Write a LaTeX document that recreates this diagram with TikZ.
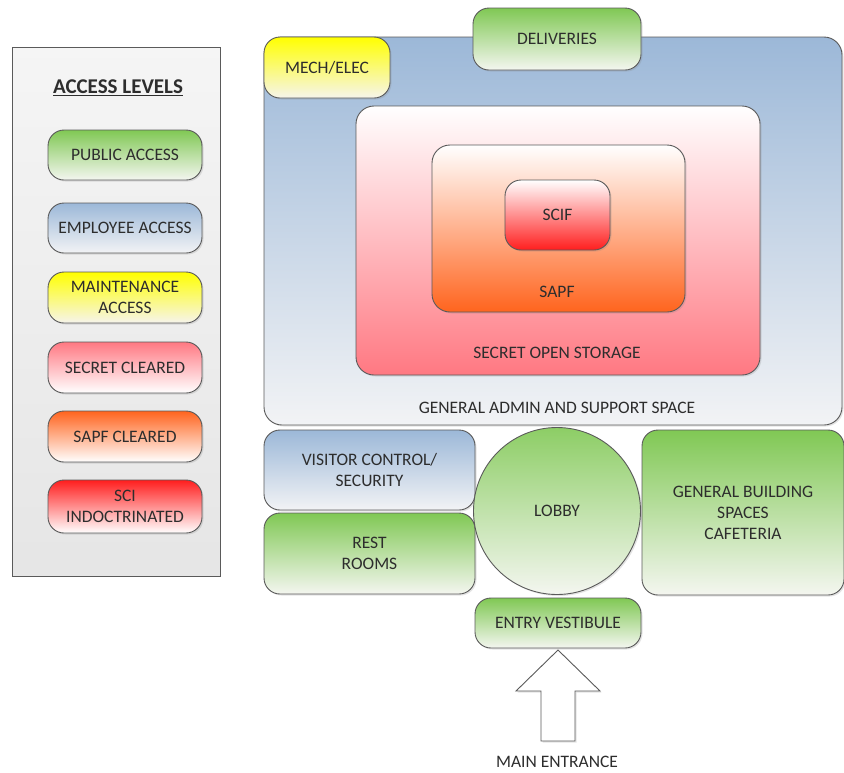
\documentclass[tikz,border=0pt]{standalone}
\usepackage{fontspec}
\setmainfont{Carlito}
\usetikzlibrary{shadows}
\definecolor{gtop}{RGB}{128,200,84}
\definecolor{gbot}{RGB}{244,246,240}
\definecolor{btop}{RGB}{156,184,216}
\definecolor{bbot}{RGB}{242,243,245}
\definecolor{ytop}{RGB}{255,255,0}
\definecolor{ybot}{RGB}{246,244,236}
\definecolor{ptop}{RGB}{255,120,130}
\definecolor{otop}{RGB}{255,100,30}
\definecolor{rtop}{RGB}{255,30,30}
\definecolor{edge}{RGB}{90,90,90}
\definecolor{txt}{RGB}{45,45,45}
\tikzset{
  room/.style={draw=edge, line width=0.9pt, rounded corners=16pt, align=center,
    text=txt, font=\fontsize{17.5}{21}\selectfont, inner sep=0pt,
    drop shadow={opacity=0.22, shadow xshift=1.5pt, shadow yshift=-1.5pt}},
  green/.style={room, top color=gtop, middle color=gtop!45!gbot, bottom color=gbot},
  blue/.style={room, top color=btop, middle color=btop!40!bbot, bottom color=bbot},
  yellow/.style={room, top color=ytop, middle color=ytop!40!ybot, bottom color=ybot},
  pinkdown/.style={room, top color=ptop, middle color=ptop!40!white, bottom color=white},
  orangedown/.style={room, top color=otop, middle color=otop!40!white, bottom color=white},
  reddown/.style={room, top color=rtop, middle color=rtop!40!white, bottom color=white},
  lbl/.style={text=txt, font=\fontsize{17.5}{21}\selectfont, align=center, inner sep=0pt},
}
\begin{document}
\begin{tikzpicture}[x=1pt,y=-1pt]
\useasboundingbox (0,0) rectangle (844,772);
% legend
\node[draw=edge, line width=0.9pt, top color=white!96!black, bottom color=white!90!black,
  minimum width=208, minimum height=529, inner sep=0pt] (legend) at (116,311.5) {};
\node[lbl, font=\fontsize{21}{25}\selectfont\bfseries] (title) at (118,88) {\underline{ACCESS LEVELS}};
\node[green, minimum width=154, minimum height=50] (pub) at (125,155) {PUBLIC ACCESS};
\node[blue, minimum width=154, minimum height=50] (emp) at (125,228) {EMPLOYEE ACCESS};
\node[yellow, minimum width=154, minimum height=51] (mnt) at (125,297.5) {MAINTENANCE\\ACCESS};
\node[pinkdown, minimum width=154, minimum height=51] (sec) at (125,367.5) {SECRET CLEARED};
\node[orangedown, minimum width=154, minimum height=51] (sapfc) at (125,436.5) {SAPF CLEARED};
\node[reddown, minimum width=154, minimum height=53] (sci) at (125,506.5) {SCI\\INDOCTRINATED};
% plan
\node[room, top color=btop, bottom color=bbot, rounded corners=18pt,
  minimum width=578, minimum height=388] (admin) at (553,231) {};
\node[lbl] (adminlbl) at (557,408) {GENERAL ADMIN AND SUPPORT SPACE};
\node[yellow, minimum width=126, minimum height=61] (mech) at (327,67.5) {MECH/ELEC};
\node[green, minimum width=168, minimum height=62] (deliv) at (557,39) {DELIVERIES};
\node[room, top color=white, middle color=ptop!35!white, bottom color=ptop, rounded corners=18pt,
  minimum width=404, minimum height=269] (sos) at (558,240.5) {};
\node[lbl] (soslbl) at (557,353) {SECRET OPEN STORAGE};
\node[room, top color=white, middle color=otop!30!white, bottom color=otop, rounded corners=18pt,
  minimum width=253, minimum height=167] (sapf) at (558.5,228.5) {};
\node[lbl] (sapflbl) at (557,292) {SAPF};
\node[room, top color=white, middle color=rtop!35!white, bottom color=rtop, rounded corners=16pt,
  minimum width=105, minimum height=70] (scif) at (557.5,215) {SCIF};
\node[blue, minimum width=211, minimum height=80] (visit) at (369.5,470) {VISITOR CONTROL/\\SECURITY};
\node[green, minimum width=211, minimum height=81] (rest) at (369.5,553.5) {REST\\ROOMS};
\node[green, minimum width=202, minimum height=165] (gen) at (743,512.5) {GENERAL BUILDING\\SPACES\\CAFETERIA};
\node[room, circle, top color=gtop!90, middle color=gtop!50!gbot, bottom color=gbot, minimum size=167] (lobby) at (557,511) {LOBBY};
\node[green, minimum width=166, minimum height=50] (vest) at (558,623) {ENTRY VESTIBULE};
% entrance arrow
\draw[draw=edge, line width=0.9pt, fill=white,
  drop shadow={opacity=0.22, shadow xshift=1.5pt, shadow yshift=-1.5pt}]
  (558,650) -- (600,691) -- (575,691) -- (575,741) -- (541,741) -- (541,691) -- (516,691) -- cycle;
\node[lbl] (main) at (557,762) {MAIN ENTRANCE};
\end{tikzpicture}
\end{document}
